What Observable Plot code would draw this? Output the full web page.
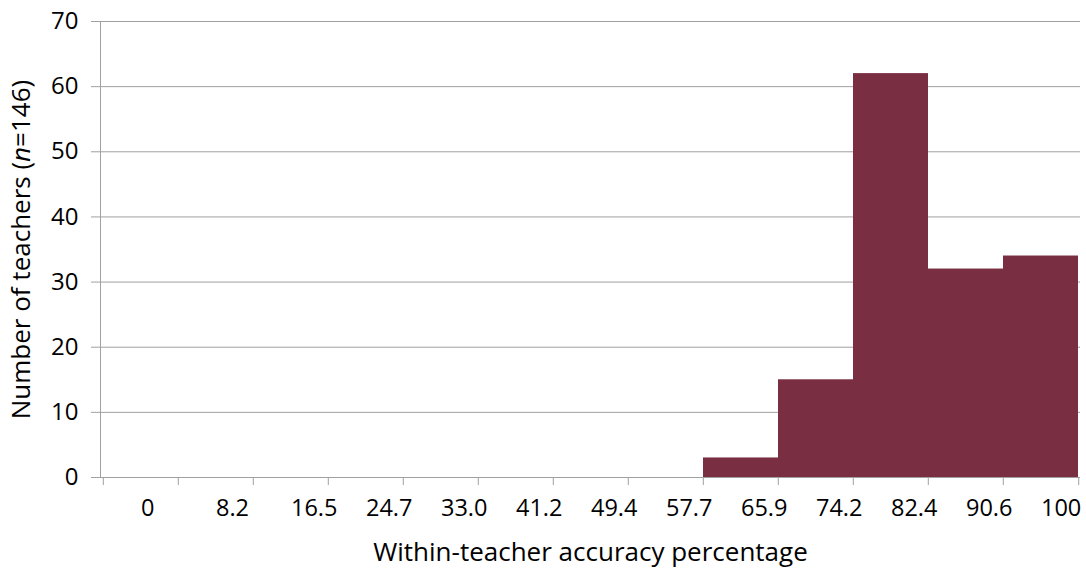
<!DOCTYPE html>
<html><head><meta charset="utf-8">
<script src="https://cdn.jsdelivr.net/npm/d3@7"></script>
<script src="https://cdn.jsdelivr.net/npm/@observablehq/plot@0.6"></script>
<style>body{margin:0;background:#fff} svg{display:block}</style>
</head><body><div id="chart"></div>
<script>
const categories = ["0","8.2","16.5","24.7","33.0","41.2","49.4","57.7","65.9","74.2","82.4","90.6","100"];
const counts = [0,0,0,0,0,0,0,0,3,15,62,32,34];
const yTicks = [0,10,20,30,40,50,60,70];
const xTitle = "Within-teacher accuracy percentage";
const yTitleParts = ["Number of teachers (", "n", "=146)"];
const data = categories.map((c,i)=>({bin:c, count:counts[i]}));

const W=1086,H=571, mL=100, mR=6, mT=21, mB=94;
const bw = (W-mL-mR)/categories.length;
const gray="#a0a0a0";
const font = '"Open Sans", sans-serif';
const chart = Plot.plot({
  width:W, height:H, marginLeft:mL, marginRight:mR, marginTop:mT, marginBottom:mB,
  style:{fontFamily:font, fontSize:"24px", color:"#000", background:"#fff", overflow:"visible"},
  x:{type:"band", domain:categories, padding:0, label:null},
  y:{domain:[0,70], label:null},
  marks:[
    Plot.gridY(yTicks,{stroke:gray, strokeOpacity:1}),
    Plot.barY(data,{x:"bin", y:"count", fill:"#7a2e41", inset:0}),
    Plot.ruleY([0],{stroke:gray}),
    Plot.frame({anchor:"left", stroke:gray}),
    Plot.axisY(yTicks,{tickSize:9, tickPadding:13, stroke:gray, fill:"#000", fontSize:24,
      label:yTitleParts.join(""), labelAnchor:"center", labelOffset:89}),
    Plot.axisX({tickSize:8, dx:-bw/2, stroke:gray, tickFormat:()=>"", label:null}),
    Plot.axisX([categories[categories.length-1]],{tickSize:8, dx:bw/2, stroke:gray, tickFormat:()=>"", label:null}),
    Plot.axisX({tickSize:0, tickPadding:22, textAnchor:"start", fill:"#000", fontSize:23.5,
      label:xTitle, labelAnchor:"center", labelOffset:83})
  ]
});
document.getElementById("chart").append(chart);
d3.select(chart).selectAll('[aria-label="y-axis label"] text, [aria-label="x-axis label"] text')
  .style("font-size","26px");
// italic n in y title
d3.select(chart).selectAll('[aria-label="y-axis label"] text').each(function(){
  const t = d3.select(this);
  t.text(null);
  t.append("tspan").text(yTitleParts[0]);
  t.append("tspan").attr("font-style","italic").text(yTitleParts[1]);
  t.append("tspan").text(yTitleParts[2]);
});
</script>
</body></html>
